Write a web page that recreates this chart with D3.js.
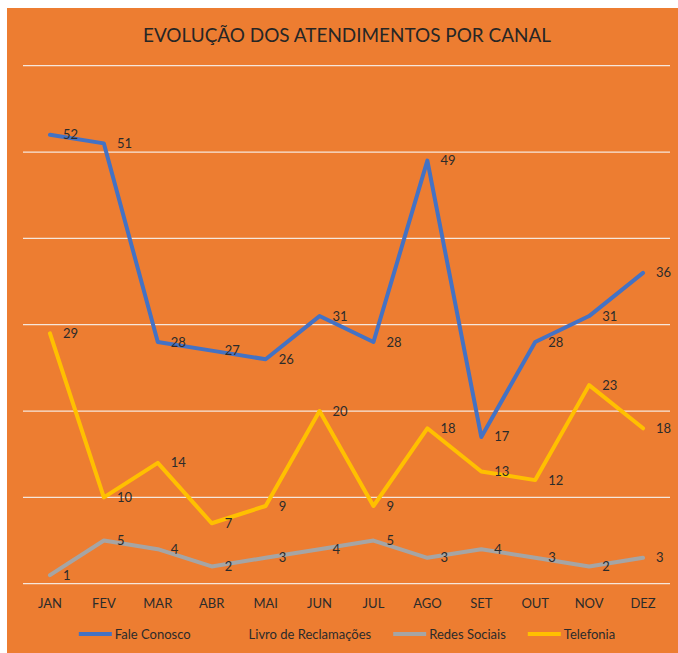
<!DOCTYPE html>
<html>
<head>
<meta charset="utf-8">
<script src="https://cdn.jsdelivr.net/npm/d3@7"></script>
<style>
    html, body { margin: 0; padding: 0; background: #fff; }
    svg { display: block; }
</style>
</head>
<body>
<svg class="chart"></svg>
<script>
'use strict';

var CHART_WIDTH = 678;
var CHART_HEIGHT = 653;
var FONT = "Lato, Carlito, 'Open Sans', sans-serif";

// data
var months = ["JAN", "FEV", "MAR", "ABR", "MAI", "JUN", "JUL", "AGO", "SET", "OUT", "NOV", "DEZ"];
var faleConosco = [52, 51, 28, 27, 26, 31, 28, 49, 17, 28, 31, 36];
var livroReclamacoes = [null, null, null, null, null, null, null, null, null, null, null, null];
var redesSociais = [1, 5, 4, 2, 3, 4, 5, 3, 4, 3, 2, 3];
var telefonia = [29, 10, 14, 7, 9, 20, 9, 18, 13, 12, 23, 18];
var gridTicks = [0, 10, 20, 30, 40, 50, 60];

var series = [
    { name: "Fale Conosco", values: faleConosco, color: "#4472C4" },
    { name: "Livro de Reclamações", values: livroReclamacoes, color: "#ED7D31" },
    { name: "Redes Sociais", values: redesSociais, color: "#A5A5A5" },
    { name: "Telefonia", values: telefonia, color: "#FFC000" }
];

var chart = d3.select(".chart")
    .attr("width", CHART_WIDTH)
    .attr("height", CHART_HEIGHT);

// orange panel
chart.append("rect")
    .attr("x", 7).attr("y", 8)
    .attr("width", CHART_WIDTH - 7).attr("height", CHART_HEIGHT - 8)
    .attr("fill", "#ED7D31");

// title (narrowed to the width of the original Calibri title)
chart.append("text")
    .attr("x", 347).attr("y", 41.7)
    .attr("text-anchor", "middle")
    .attr("font-family", FONT)
    .attr("font-size", 19.5)
    .attr("textLength", 408)
    .attr("lengthAdjust", "spacingAndGlyphs")
    .attr("fill", "#262626")
    .text("EVOLUÇÃO DOS ATENDIMENTOS POR CANAL");

var xScale = d3.scaleBand()
    .domain(months)
    .range([23, 670])
    .padding(0);

var yScale = d3.scaleLinear()
    .domain([0, 60])
    .range([583.7, 65.7]);

function xPos(m) {
    return xScale(m) + xScale.bandwidth() / 2;
}

// gridlines
chart.append("g")
    .selectAll("line")
    .data(gridTicks)
    .enter()
    .append("line")
    .attr("x1", 23).attr("x2", 670)
    .attr("y1", function (d) { return yScale(d); })
    .attr("y2", function (d) { return yScale(d); })
    .attr("stroke", "#F6E7DC")
    .attr("stroke-width", 1.3);

// x axis labels
var xAxis = d3.axisBottom(xScale).tickSize(0).tickPadding(0);
var axisG = chart.append("g")
    .attr("transform", "translate(0," + 603 + ")")
    .call(xAxis);
axisG.select(".domain").remove();
axisG.selectAll("text")
    .attr("dy", "0.35em")
    .attr("font-family", FONT)
    .attr("font-size", 13)
    .attr("fill", "#2b2b2b");

// lines
var line = d3.line()
    .defined(function (d) { return d != null; })
    .x(function (d, i) { return xPos(months[i]); })
    .y(function (d) { return yScale(d); });

series.forEach(function (s) {
    chart.append("path")
        .datum(s.values)
        .attr("d", line)
        .attr("fill", "none")
        .attr("stroke", s.color)
        .attr("stroke-width", 4)
        .attr("stroke-linejoin", "round")
        .attr("stroke-linecap", "round");
});

// data labels
series.forEach(function (s) {
    chart.append("g")
        .selectAll("text")
        .data(s.values)
        .enter()
        .filter(function (d) { return d != null; })
        .append("text")
        .attr("x", function (d, i) { return xPos(months[i]) + 13; })
        .attr("y", function (d) { return yScale(d); })
        .attr("dy", "0.35em")
        .attr("font-family", FONT)
        .attr("font-size", 13)
        .attr("fill", "#2b2b2b")
        .text(function (d) { return d; });
});

// legend
var legend = chart.append("g");
var swatchW = 33, textGap = 3, itemGap = 22, legendY = 634;
var items = series.map(function (s) {
    var g = legend.append("g");
    g.append("line")
        .attr("x1", 0).attr("x2", swatchW)
        .attr("y1", 0).attr("y2", 0)
        .attr("stroke", s.color)
        .attr("stroke-width", 4);
    var t = g.append("text")
        .attr("x", swatchW + textGap)
        .attr("y", 0)
        .attr("dy", "0.35em")
        .attr("font-family", FONT)
        .attr("font-size", 13)
        .attr("fill", "#2b2b2b")
        .text(s.name);
    return { g: g, w: swatchW + textGap + t.node().getComputedTextLength() };
});
var total = d3.sum(items, function (d) { return d.w; }) + itemGap * (items.length - 1);
var cx = 347 - total / 2;
items.forEach(function (it) {
    it.g.attr("transform", "translate(" + cx + "," + legendY + ")");
    cx += it.w + itemGap;
});
</script>
</body>
</html>
